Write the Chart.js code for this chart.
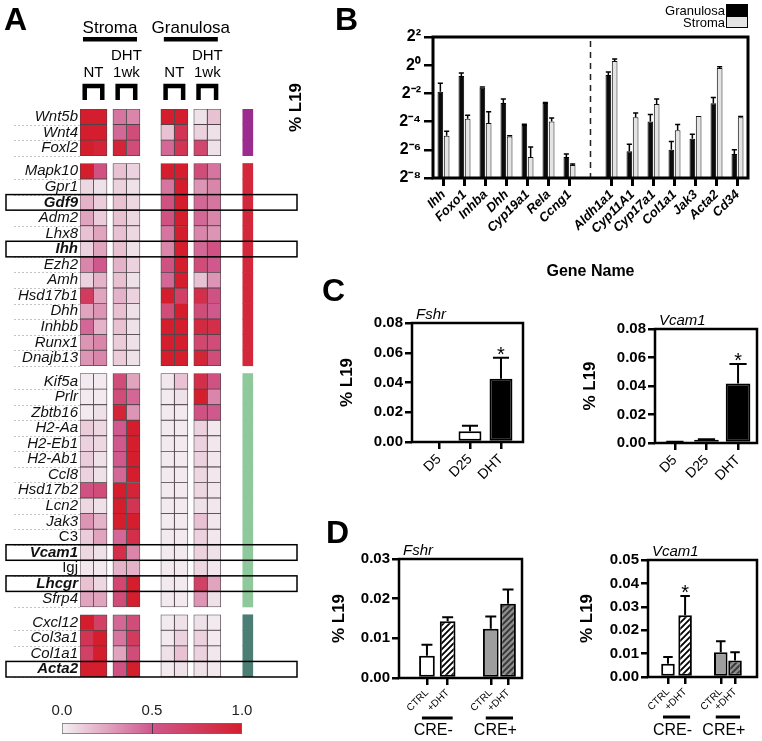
<!DOCTYPE html>
<html>
<head>
<meta charset="utf-8">
<script src="https://cdn.jsdelivr.net/npm/chart.js@4.4.1/dist/chart.umd.min.js"></script>
<style>
    body { margin: 0; background: #fff; }
    #fig { position: relative; width: 762px; height: 741px; overflow: hidden; font-family: 'Liberation Sans', Arial, sans-serif; color: #000; }
    canvas { position: absolute; }
    .letter { position: absolute; font-weight: bold; font-size: 32px; line-height: 32px; }
    #legendB { position: absolute; right: 14px; top: 4px; font-size: 13px; }
    #legendB div { display: flex; justify-content: flex-end; align-items: center; height: 12px; }
    #legendB i { display: inline-block; width: 20px; height: 10px; border: 1px solid #000; margin-left: 1px; }
</style>
</head>
<body>
<div id="fig">
    <canvas id="heatmap" width="300" height="700" style="left:0;top:0"></canvas>
    <canvas id="colorbar" width="215" height="41" style="left:45px;top:700px"></canvas>
    <canvas id="geneB" width="492" height="285" style="left:270px;top:0"></canvas>
    <canvas id="fshrC" width="205" height="205" style="left:325px;top:296px"></canvas>
    <canvas id="vcamC" width="192" height="205" style="left:570px;top:296px"></canvas>
    <canvas id="fshrD" width="212" height="208" style="left:318px;top:533px"></canvas>
    <canvas id="vcamD" width="196" height="208" style="left:566px;top:533px"></canvas>

    <div class="letter" style="left:4px;top:3px">A</div>
    <div class="letter" style="left:335px;top:3px">B</div>
    <div class="letter" style="left:322px;top:274px">C</div>
    <div class="letter" style="left:326px;top:516px">D</div>
    <div id="legendB">
        <div><span>Granulosa</span><i style="background:#000"></i></div>
        <div><span>Stroma</span><i style="background:#e4e4e4"></i></div>
    </div>
</div>
<script>
// ---------- Panel A data ----------
const geneGroups = [
    ['Wnt5b', 'Wnt4', 'Foxl2'],
    ['Mapk10', 'Gpr1', 'Gdf9', 'Adm2', 'Lhx8', 'Ihh', 'Ezh2', 'Amh', 'Hsd17b1', 'Dhh', 'Inhbb', 'Runx1', 'Dnajb13'],
    ['Kif5a', 'Prlr', 'Zbtb16', 'H2-Aa', 'H2-Eb1', 'H2-Ab1', 'Ccl8', 'Hsd17b2', 'Lcn2', 'Jak3', 'C3', 'Vcam1', 'Igj', 'Lhcgr', 'Sfrp4'],
    ['Cxcl12', 'Col3a1', 'Col1a1', 'Acta2']
];
const boldGenes = ['Gdf9', 'Ihh', 'Vcam1', 'Lhcgr', 'Acta2'];
const uprightGenes = ['C3', 'Igj'];
const tissueNames = ['Stroma', 'Granulosa'];
const treatmentLabels = [['NT'], ['DHT', '1wk'], ['NT'], ['DHT', '1wk']];
const groupColors = ['#9b2b8f', '#d3283b', '#8ec89b', '#4d7e76'];

// scaled expression, one array per heatmap column (two replicates per condition)
const stromaNT1 = [1, 1, 1, 1, .08, .2, .25, .15, .1, .35, .1, .75, .25, .45, .3, .3, .02, .02, .02, .12, .1, .12, .1, .55, .08, .3, .12, .08, .03, .15, .25, 1, .8, .7, 1];
const stromaNT2 = [1, 1, .95, .55, .05, .12, .12, .25, .25, .5, .2, .25, .3, .2, .35, .35, .02, .02, .05, .08, .08, .05, .05, .6, .05, .2, .25, .05, .02, .08, .25, .7, 1, 1, 1];
const stromaDHT1 = [.4, .45, .95, .15, .1, .15, .15, .15, .15, .2, .15, .2, .15, .15, .12, .12, .6, .6, .95, .5, .5, .5, .45, 1, 1, 1, .45, .85, .2, .65, .6, .45, .4, .25, .55];
const stromaDHT2 = [.35, .6, .6, .1, .05, .08, .08, .08, .05, .1, .05, .1, .05, .05, .05, .05, .25, .45, .3, 1, 1, 1, 1, .95, .8, 1, .85, .35, .2, 1, 1, .6, .75, .6, 1];
const granNT1 = [1, .15, .45, 1, .4, .55, .55, .4, .35, .55, .45, 1, .6, 1, 1, 1, .03, .02, .02, .02, .02, .02, .02, .02, .02, .02, .02, .02, .02, .02, .02, .02, .02, .05, .02];
const granNT2 = [1, .8, .8, 1, 1, 1, 1, 1, 1, 1, 1, .7, 1, 1, 1, 1, .15, .05, .02, .02, .02, .02, .02, .02, .02, .02, .02, .02, .02, .02, .02, .05, .1, .15, .05];
const granDHT1 = [.05, .1, .65, .6, .3, .45, .45, .35, .45, .6, .15, .85, .6, .9, .65, .95, .85, 1, .55, .1, .1, .1, .08, .08, .05, .15, .1, .1, .08, .7, .3, .05, .1, .1, .05];
const granDHT2 = [.15, .05, .05, .4, .35, .4, .35, .3, .55, .5, .3, .55, .5, .85, .6, .6, .55, .35, .5, .03, .03, .03, .03, .03, .03, .03, .03, .05, .03, .25, .05, .02, .02, .03, .02];

// ---------- Panel B data ----------
const bGenes = ['Ihh', 'Foxo1', 'Inhba', 'Dhh', 'Cyp19a1', 'Rela', 'Ccng1', '', 'Aldh1a1', 'Cyp11A1', 'Cyp17a1', 'Col1a1', 'Jak3', 'Acta2', 'Cd34'];
const bGranulosa = [0.27, 0.59, 0.33, 0.155, 0.053, 0.155, 0.011, null, 0.62, 0.0146, 0.0625, 0.0156, 0.027, 0.154, 0.0127];
const bGranulosaErr = [0.14, 0.095, 0.012, 0.035, 0.002, 0.004, 0.0017, null, 0.1, 0.006, 0.026, 0.008, 0.0065, 0.05, 0.003];
const bStroma = [0.031, 0.072, 0.058, 0.03, 0.011, 0.0625, 0.0074, null, 1.23, 0.077, 0.149, 0.041, 0.082, 0.87, 0.077];
const bStromaErr = [0.008, 0.0135, 0.043, 0.001, 0.007, 0.012, 0.0004, null, 0.12, 0.018, 0.04, 0.013, 0, 0.06, 0.003];
const bPowers = [-8, -6, -4, -2, 0, 2];

// ---------- Panel C data ----------
const cLabels = ['D5', 'D25', 'DHT'];
const cFshr = [0, 0.0072, 0.0425];
const cFshrErr = [0, 0.0038, 0.0142];
const cVcam1 = [0.0006, 0.0022, 0.0418];
const cVcam1Err = [0.0002, 0.0004, 0.0137];
const cSignificant = [false, false, true];

// ---------- Panel D data ----------
const dLabels = ['CTRL', '+DHT', 'CTRL', '+DHT'];
const dGroups = ['CRE-', 'CRE+'];
const dFshr = [0.0056, 0.0143, 0.0124, 0.0187];
const dFshrErr = [0.0028, 0.001, 0.0031, 0.0036];
const dVcam1 = [0.0057, 0.0264, 0.0106, 0.0071];
const dVcam1Err = [0.0028, 0.0082, 0.0047, 0.0035];
const dVcam1Sig = [false, true, false, false];

// ---------- common ----------
const FONT = "'Liberation Sans', Arial, sans-serif";
Chart.defaults.font.family = FONT;
Chart.defaults.color = '#000';
Chart.defaults.animation = false;
Chart.defaults.responsive = false;
Chart.defaults.plugins.legend.display = false;
Chart.defaults.plugins.tooltip.enabled = false;

const heatStops = [[0, [243, 240, 242]], [0.5, [207, 88, 140]], [1, [212, 30, 46]]];
function heatColor(v) {
    const s = v <= 0.5 ? 0 : 1;
    const a = heatStops[s], b = heatStops[s + 1];
    const t = (v - a[0]) / (b[0] - a[0]);
    const c = a[1].map((x, k) => Math.round(x + (b[1][k] - x) * t));
    return `rgb(${c.join(',')})`;
}

function hatch(bg, fg) {
    const c = document.createElement('canvas');
    c.width = c.height = 6;
    const g = c.getContext('2d');
    g.fillStyle = bg;
    g.fillRect(0, 0, 6, 6);
    g.strokeStyle = fg;
    g.lineWidth = 1.8;
    g.beginPath();
    g.moveTo(0, 6); g.lineTo(6, 0);
    g.moveTo(-1, 1); g.lineTo(1, -1);
    g.moveTo(5, 7); g.lineTo(7, 5);
    g.stroke();
    return g.createPattern(c, 'repeat');
}

const supMap = { '0': '\u2070', '2': '\u00b2', '4': '\u2074', '6': '\u2076', '8': '\u2078', '-': '\u207b' };
const sup = n => String(n).split('').map(ch => supMap[ch]).join('');

// plot frame around chart area
const frame = {
    id: 'frame',
    afterDraw(chart, args, opts) {
        const { ctx, chartArea: a } = chart;
        ctx.save();
        ctx.strokeStyle = '#000';
        ctx.lineWidth = opts.width || 2;
        ctx.strokeRect(a.left, a.top, a.right - a.left, a.bottom - a.top);
        ctx.restore();
    }
};

// one-sided error bars (+ optional significance star)
const errorBars = {
    id: 'errorBars',
    afterDatasetsDraw(chart, args, opts) {
        const { ctx, scales: { y } } = chart;
        chart.data.datasets.forEach((ds, di) => {
            if (!ds.errors) return;
            const vals = ds.values || ds.data;
            chart.getDatasetMeta(di).data.forEach((bar, i) => {
                const v = vals[i], e = ds.errors[i];
                if (v == null) return;
                const top = y.getPixelForValue(v + (e || 0));
                const half = bar.width * (opts.cap || 0.35);
                ctx.save();
                ctx.strokeStyle = '#000';
                ctx.lineWidth = opts.width || 1.5;
                if (e) {
                    ctx.beginPath();
                    ctx.moveTo(bar.x, bar.y); ctx.lineTo(bar.x, top);
                    ctx.moveTo(bar.x - half, top); ctx.lineTo(bar.x + half, top);
                    ctx.stroke();
                }
                if (ds.stars && ds.stars[i]) {
                    ctx.fillStyle = '#000';
                    ctx.font = `20px ${FONT}`;
                    ctx.textAlign = 'center';
                    ctx.fillText('*', bar.x, top + 3);
                }
                ctx.restore();
            });
        });
    }
};

// italic gene name above the top-left corner of a plot
function geneTitle(text) {
    return {
        id: 'geneTitle',
        afterDraw(chart) {
            const { ctx, chartArea: a } = chart;
            ctx.save();
            ctx.fillStyle = '#000';
            ctx.font = `italic 15px ${FONT}`;
            ctx.textAlign = 'left';
            ctx.fillText(text, a.left + 4, a.top - 4);
            ctx.restore();
        }
    };
}

// group underline + label under the x tick labels (panel D)
function groupLabels(groups, lineY, textY) {
    return {
        id: 'groupLabels',
        afterDraw(chart) {
            const { ctx, scales: { x } } = chart;
            ctx.save();
            ctx.fillStyle = '#000';
            ctx.font = `16px ${FONT}`;
            ctx.textAlign = 'center';
            ctx.textBaseline = 'middle';
            groups.forEach(g => {
                const a = x.getPixelForValue(g.from), b = x.getPixelForValue(g.to);
                ctx.fillRect(a - 5, lineY - 1.5, b - a + 10, 3);
                ctx.fillText(g.label, (a + b) / 2 - 4, textY);
            });
            ctx.restore();
        }
    };
}

// ---------- Panel A: heatmap ----------
const allGenes = geneGroups.flat();
const rowCenters = [];
const groupOf = [];
let rowPos = 0;
geneGroups.forEach((g, gi) => {
    if (gi) rowPos += 0.5;
    g.forEach(() => { rowCenters.push(rowPos + 0.5); groupOf.push(gi); rowPos += 1; });
});
const totalRows = rowPos;

const heatColumns = [stromaNT1, stromaNT2, stromaDHT1, stromaDHT2, granNT1, granNT2, granDHT1, granDHT2];
const pairStarts = [0, 2.44, 5.99, 8.43];
const sideBar = [12.06, 12.8];

const heatDatasets = heatColumns.map((vals, ci) => {
    const x0 = pairStarts[Math.floor(ci / 2)] + (ci % 2);
    return {
        data: vals.map((v, r) => ({ y: rowCenters[r], x: [x0, x0 + 1] })),
        backgroundColor: vals.map(heatColor),
        borderColor: '#4e4449',
        borderWidth: 0.8,
        borderSkipped: false,
        grouped: false,
        barPercentage: 1,
        categoryPercentage: 1
    };
});
heatDatasets.push({
    data: allGenes.map((g, r) => ({ y: rowCenters[r], x: sideBar })),
    backgroundColor: groupOf.map(i => groupColors[i]),
    borderWidth: 0,
    grouped: false,
    barPercentage: 1,
    categoryPercentage: 1
});

const heatDecor = {
    id: 'heatDecor',
    beforeDraw(chart) {
        const { ctx, chartArea, scales: { y } } = chart;
        ctx.save();
        ctx.strokeStyle = '#c4c4c4';
        ctx.lineWidth = 1;
        ctx.setLineDash([2, 2]);
        rowCenters.forEach(c => {
            const yy = Math.round(y.getPixelForValue(c + 0.5)) + 0.5;
            ctx.beginPath(); ctx.moveTo(14, yy); ctx.lineTo(chartArea.left, yy); ctx.stroke();
        });
        ctx.restore();
    },
    afterDraw(chart) {
        const { ctx, chartArea, scales: { x, y } } = chart;
        ctx.save();
        ctx.strokeStyle = '#000';
        ctx.fillStyle = '#000';
        ctx.lineWidth = 1.5;
        boldGenes.forEach(g => {
            const c = rowCenters[allGenes.indexOf(g)];
            const t = y.getPixelForValue(c - 0.5), b = y.getPixelForValue(c + 0.5);
            ctx.strokeRect(6, t, chartArea.right + 1 - 6, b - t);
        });
        ctx.textAlign = 'center';
        tissueNames.forEach((name, t) => {
            const l = x.getPixelForValue(pairStarts[2 * t]), r = x.getPixelForValue(pairStarts[2 * t + 1] + 2);
            const cx = (l + r) / 2;
            ctx.font = `17px ${FONT}`;
            ctx.fillText(name, cx, 33);
            ctx.fillRect(cx - 27, 37, 54, 4.5);
        });
        ctx.font = `15px ${FONT}`;
        pairStarts.forEach((s, p) => {
            const cx = x.getPixelForValue(s + 1);
            const lines = treatmentLabels[p];
            lines.forEach((txt, k) => ctx.fillText(txt, cx, 77 - (lines.length - 1 - k) * 17));
            const l = x.getPixelForValue(s + 0.35), r = x.getPixelForValue(s + 1.65);
            ctx.lineWidth = 4.5;
            ctx.lineJoin = 'miter';
            ctx.beginPath();
            ctx.moveTo(l, 100); ctx.lineTo(l, 86); ctx.lineTo(r, 86); ctx.lineTo(r, 100);
            ctx.stroke();
        });
        ctx.restore();
    }
};

new Chart(document.getElementById('heatmap'), {
    type: 'bar',
    data: { datasets: heatDatasets },
    options: {
        indexAxis: 'y',
        layout: { padding: { left: 0, top: 109, right: 4, bottom: 23 } },
        scales: {
            x: { type: 'linear', min: 0, max: 16, display: false, offset: false },
            y: {
                type: 'linear', reverse: true, min: 0, max: totalRows, offset: false,
                afterBuildTicks: s => { s.ticks = rowCenters.map(v => ({ value: v })); },
                afterFit: s => { s.width = 80; },
                grid: { display: false, drawTicks: false },
                border: { display: false },
                ticks: {
                    autoSkip: false,
                    padding: 2,
                    color: '#111',
                    callback: (v, i) => allGenes[i],
                    font: c => ({
                        size: 15,
                        style: uprightGenes.includes(allGenes[c.index]) ? 'normal' : 'italic',
                        weight: boldGenes.includes(allGenes[c.index]) ? 'bold' : 'normal'
                    })
                }
            }
        }
    },
    plugins: [heatDecor]
});

// colour scale bar
const midLine = {
    id: 'midLine',
    afterDatasetsDraw(chart) {
        const { ctx, chartArea: a, scales: { x } } = chart;
        const px = Math.round(x.getPixelForValue(0.5)) + 0.5;
        ctx.save();
        ctx.strokeStyle = '#4a3a40';
        ctx.lineWidth = 1;
        ctx.beginPath(); ctx.moveTo(px, a.top); ctx.lineTo(px, a.bottom); ctx.stroke();
        ctx.restore();
    }
};

new Chart(document.getElementById('colorbar'), {
    type: 'bar',
    data: {
        labels: ['scale'],
        datasets: [{
            data: [[0, 1]],
            backgroundColor: c => {
                const a = c.chart.chartArea;
                if (!a) return '#fff';
                const g = c.chart.ctx.createLinearGradient(a.left, 0, a.right, 0);
                heatStops.forEach(s => g.addColorStop(s[0], `rgb(${s[1].join(',')})`));
                return g;
            },
            borderColor: '#6b6b6b',
            borderWidth: 1,
            borderSkipped: false,
            barPercentage: 1,
            categoryPercentage: 1
        }]
    },
    options: {
        indexAxis: 'y',
        layout: { padding: { left: 17, right: 18, top: 0, bottom: 7 } },
        scales: {
            x: {
                position: 'top', min: 0, max: 1,
                ticks: { stepSize: 0.5, callback: v => v.toFixed(1), font: { size: 15 }, color: '#222', padding: 3 },
                grid: { display: false, drawTicks: false },
                border: { display: false },
                afterFit: s => { s.height = 23; }
            },
            y: { display: false }
        }
    },
    plugins: [midLine]
});

// ---------- Panel B ----------
const gapLine = {
    id: 'gapLine',
    afterDatasetsDraw(chart) {
        const { ctx, chartArea: a, scales: { x } } = chart;
        const px = x.getPixelForValue(bGenes.indexOf(''));
        ctx.save();
        ctx.strokeStyle = '#222';
        ctx.lineWidth = 1.5;
        ctx.setLineDash([6, 5]);
        ctx.beginPath(); ctx.moveTo(px, a.top + 4); ctx.lineTo(px, a.bottom); ctx.stroke();
        ctx.restore();
    }
};

new Chart(document.getElementById('geneB'), {
    type: 'bar',
    data: {
        labels: bGenes,
        datasets: [
            { label: 'Granulosa', data: bGranulosa, errors: bGranulosaErr, backgroundColor: '#0b0b0b', borderColor: '#000', borderWidth: 1 },
            { label: 'Stroma', data: bStroma, errors: bStromaErr, backgroundColor: '#e4e4e4', borderColor: '#111', borderWidth: 1 }
        ]
    },
    options: {
        layout: { padding: { left: 10, top: 37, right: 14, bottom: 4 } },
        datasets: { bar: { categoryPercentage: 0.6, barPercentage: 0.9, borderSkipped: false } },
        scales: {
            x: {
                grid: { offset: false, drawOnChartArea: false, tickLength: 8, lineWidth: 3, color: c => bGenes[c.index] ? '#000' : 'rgba(0,0,0,0)' },
                border: { display: false },
                ticks: { autoSkip: false, minRotation: 45, maxRotation: 45, padding: 1, font: { size: 13, weight: 'bold', style: 'italic' }, color: '#000' },
                title: { display: true, text: 'Gene Name', font: { size: 16, weight: 'bold' }, color: '#000', padding: { top: 4, bottom: 0 } },
                afterFit: s => { s.height = 103; }
            },
            y: {
                type: 'logarithmic', min: 2 ** -8, max: 4,
                afterBuildTicks: s => { s.ticks = bPowers.map(p => ({ value: 2 ** p })); },
                ticks: { callback: (v, i) => '2' + sup(bPowers[i]), font: { size: 16, weight: 'bold' }, color: '#000', padding: 3 },
                grid: { drawOnChartArea: false, tickLength: 9, lineWidth: 2.5, color: '#000' },
                border: { display: false },
                title: { display: true, text: '% L19', font: { size: 17, weight: 'bold' }, color: '#000', padding: { top: 6, bottom: 0 } },
                afterFit: s => { s.width = 153; }
            }
        },
        plugins: { frame: { width: 3 }, errorBars: { width: 1.5, cap: 0.45 } }
    },
    plugins: [frame, errorBars, gapLine]
});

// ---------- Panels C and D ----------
function smallBar(id, o) {
    return new Chart(document.getElementById(id), {
        type: 'bar',
        data: {
            datasets: [{
                data: o.values.map((v, i) => ({ x: o.slots[i], y: v })),
                values: o.values,
                errors: o.errors,
                stars: o.stars,
                backgroundColor: o.fills,
                borderColor: '#000',
                borderWidth: 2,
                borderSkipped: false,
                barPercentage: o.barPct,
                categoryPercentage: 1
            }]
        },
        options: {
            layout: { padding: o.pad },
            scales: {
                x: {
                    type: 'linear', min: o.xMin, max: o.xMax, offset: false,
                    afterBuildTicks: s => { s.ticks = o.slots.map(v => ({ value: v })); },
                    afterFit: s => { s.height = o.xHeight; },
                    ticks: { autoSkip: false, minRotation: 45, maxRotation: 45, callback: (v, i) => o.labels[i], font: { size: o.xFont }, color: '#000', padding: 2 },
                    grid: { offset: false, drawOnChartArea: false, tickLength: 7, lineWidth: 2.5, color: '#000' },
                    border: { display: false }
                },
                y: {
                    min: 0, max: o.yMax,
                    ticks: { stepSize: o.yStep, callback: v => v.toFixed(2), font: { size: 15, weight: 'bold' }, color: '#000', padding: 2 },
                    grid: { drawOnChartArea: false, tickLength: 7, lineWidth: 2.5, color: '#000' },
                    border: { display: false },
                    title: { display: true, text: '% L19', font: { size: 17, weight: 'bold' }, color: '#000', padding: { top: 4, bottom: 0 } },
                    afterFit: s => { s.width = o.yWidth; }
                }
            },
            plugins: { frame: { width: 2.5 }, errorBars: { width: 2, cap: 0.35 } }
        },
        plugins: [frame, errorBars, geneTitle(o.title), groupLabels(o.groups || [], o.lineY, o.textY)]
    });
}

const cSlots = [0, 1, 2];
const dSlots = [0, 1.2, 3.7, 4.7];
const dGroupSpans = [{ label: dGroups[0], from: dSlots[0], to: dSlots[1] }, { label: dGroups[1], from: dSlots[2], to: dSlots[3] }];
const dFills = ['#ffffff', hatch('#ffffff', '#000000'), '#9e9e9e', hatch('#8c8c8c', '#333333')];

smallBar('fshrC', {
    title: 'Fshr', values: cFshr, errors: cFshrErr, stars: cSignificant, labels: cLabels, slots: cSlots,
    fills: ['#ffffff', '#ffffff', '#000000'], barPct: 0.74,
    pad: { left: 8, top: 27, right: 7, bottom: 0 }, yWidth: 79, xHeight: 59, xMin: -0.87, xMax: 2.71,
    yMax: 0.08, yStep: 0.02, xFont: 14
});
smallBar('vcamC', {
    title: 'Vcam1', values: cVcam1, errors: cVcam1Err, stars: cSignificant, labels: cLabels, slots: cSlots,
    fills: ['#ffffff', '#ffffff', '#000000'], barPct: 0.78,
    pad: { left: 6, top: 33, right: 5, bottom: 0 }, yWidth: 79, xHeight: 58, xMin: -0.63, xMax: 2.6,
    yMax: 0.08, yStep: 0.02, xFont: 14
});
smallBar('fshrD', {
    title: 'Fshr', values: dFshr, errors: dFshrErr, labels: dLabels, slots: dSlots,
    fills: dFills, barPct: 0.91, groups: dGroupSpans, lineY: 185, textY: 198,
    pad: { left: 7, top: 26, right: 8, bottom: 0 }, yWidth: 74, xHeight: 63, xMin: -1.62, xMax: 5.51,
    yMax: 0.03, yStep: 0.01, xFont: 10
});
smallBar('vcamD', {
    title: 'Vcam1', values: dVcam1, errors: dVcam1Err, stars: dVcam1Sig, labels: dLabels, slots: dSlots,
    fills: dFills, barPct: 0.95, groups: dGroupSpans, lineY: 184, textY: 198,
    pad: { left: 7, top: 27, right: 5, bottom: 0 }, yWidth: 75, xHeight: 64, xMin: -1.4, xMax: 6.24,
    yMax: 0.05, yStep: 0.01, xFont: 10
});
</script>
</body>
</html>
